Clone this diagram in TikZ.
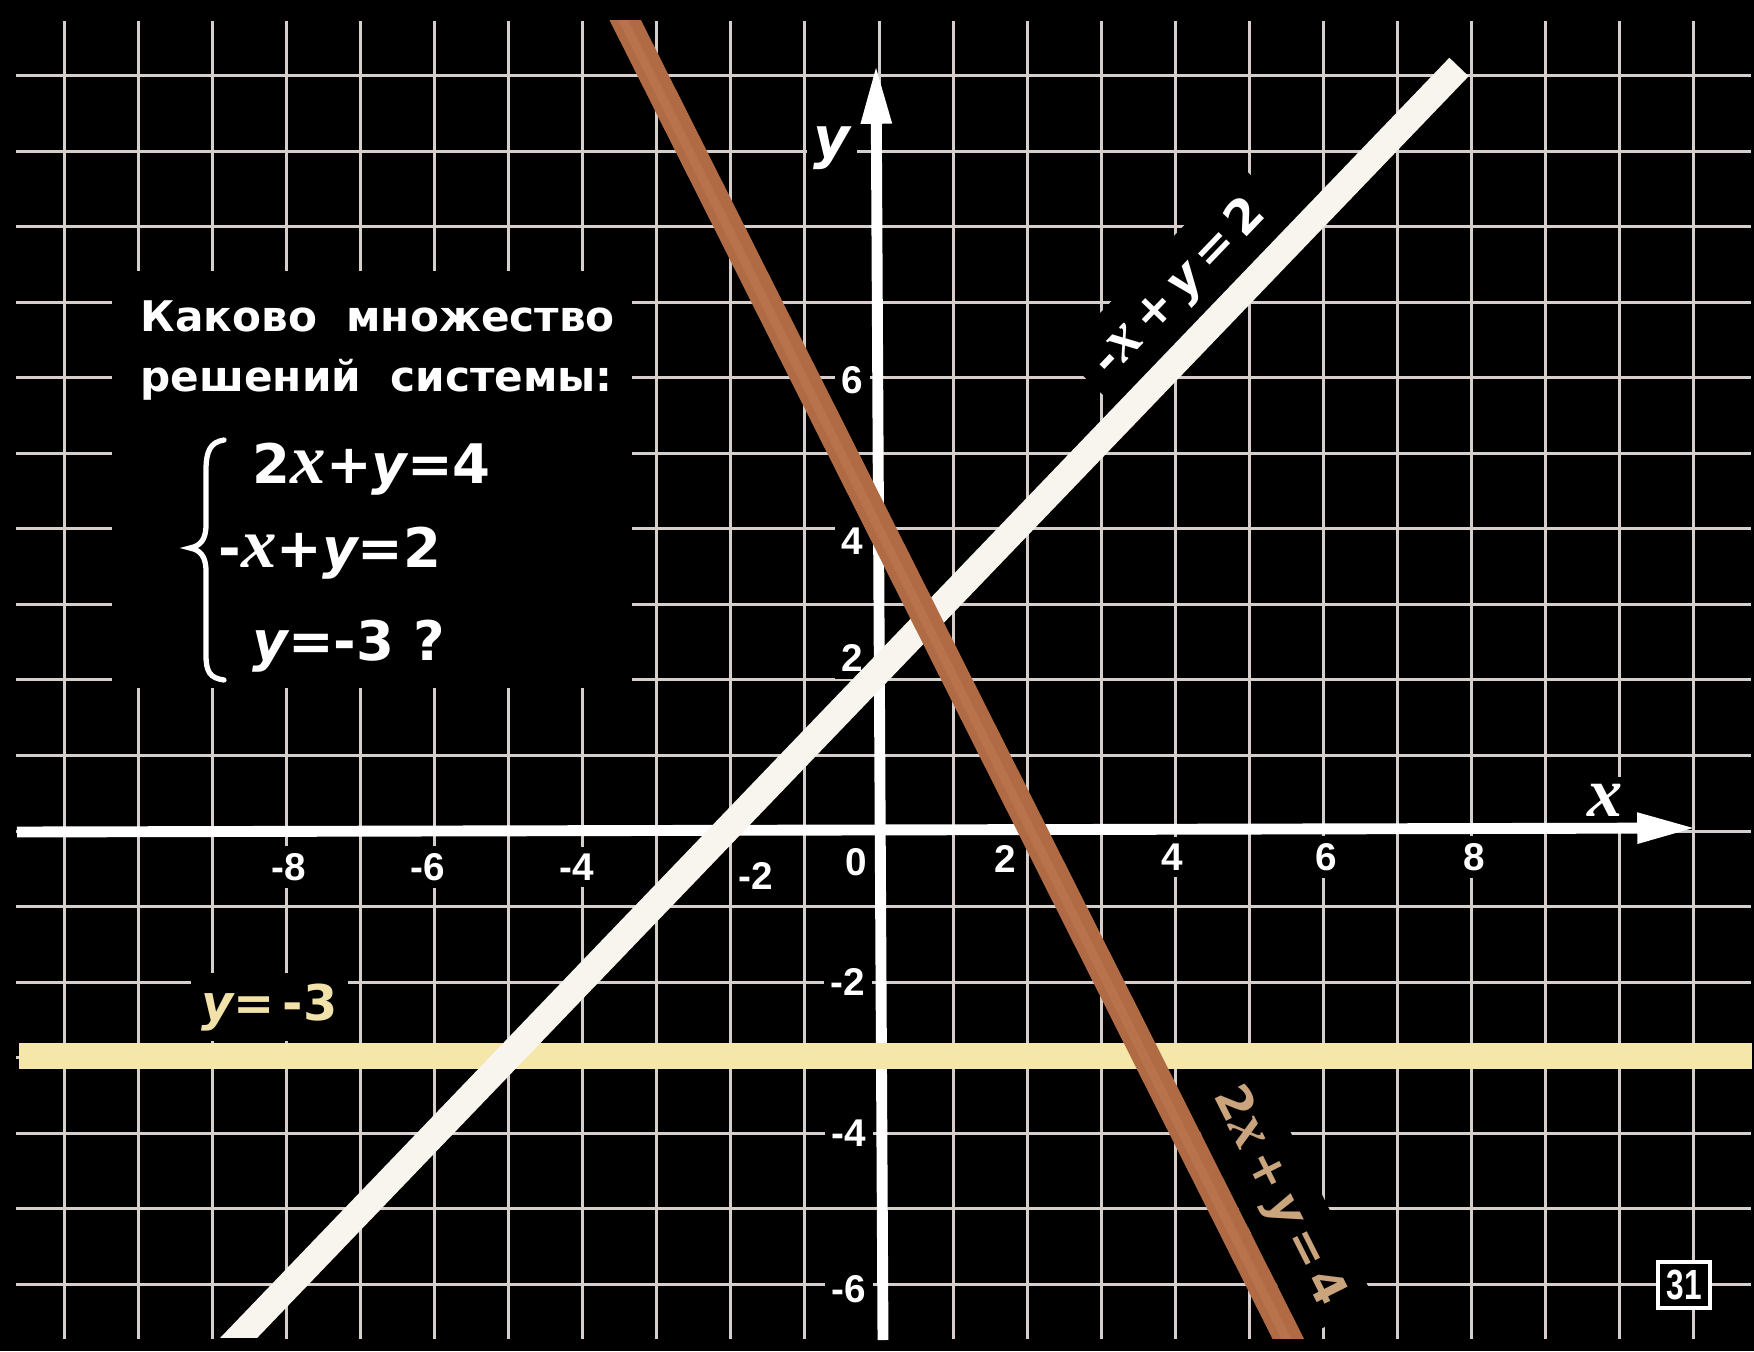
\documentclass[tikz,border=0pt]{standalone}
\usepackage{fontspec}
\setmainfont{DejaVu Sans}
\newfontfamily\serifit{Liberation Serif}
\newfontfamily\digitfont{Liberation Sans}
\usetikzlibrary{arrows.meta}
\definecolor{gridc}{HTML}{D6CECB}
\definecolor{whiteln}{HTML}{F8F5EF}
\definecolor{yellowln}{HTML}{F5E7AA}
\definecolor{brownln}{HTML}{B06A44}
\definecolor{brownhi}{HTML}{BE7A52}
\definecolor{browntxt}{HTML}{C9A47C}
\definecolor{yellowtxt}{HTML}{F0E2A8}
\newcommand{\myx}{\scalebox{1.3}{\serifit\bfseries\itshape x}}
\newcommand{\myy}{{\bfseries\itshape y}}
\tikzset{
  gridline/.style={draw=gridc, line width=0.85pt},
  axisline/.style={draw=white, line width=3.1pt, -{Triangle[length=17pt,width=8pt]}},
  ticklbl/.style={fill=black, text=white, inner sep=2pt, font=\digitfont\bfseries\fontsize{11}{12}\selectfont},
  boxtxt/.style={text=white, inner sep=0pt, font=\bfseries\fontsize{12}{14}\selectfont},
  eqtxt/.style={text=white, inner sep=0pt, font=\bfseries\fontsize{15.5}{18}\selectfont},
  linelbl/.style={fill=black, inner sep=5pt, font=\bfseries\fontsize{13.5}{16}\selectfont},
  axlbl/.style={fill=black, text=white, inner sep=2pt, font=\bfseries\fontsize{16}{18}\selectfont},
  bigline/.style={line width=7.6pt, line cap=butt},
}
\begin{document}
\begin{tikzpicture}[x=0.01cm, y=-0.01cm]
\useasboundingbox (0,0) rectangle (1754,1351);
\fill[black] (0,0) rectangle (1754,1351);
% grid
\begin{scope}[shift={(879,831)}, x=0.74cm, y=0.755cm]
  \foreach \i in {-11,...,11} \draw[gridline] (\i,10.72) -- (\i,-6.72);
  \foreach \j in {-6,...,10} \draw[gridline] (-11.65,\j) -- (11.77,\j);
\end{scope}
% text panel
\fill[black] (112,271) rectangle (632,688);
\node[boxtxt, anchor=base west] (t1) at (140,331) {Каково\ \ множество};
\node[boxtxt, anchor=base west] (t2) at (140,391) {решений\ \ системы:};
\node[eqtxt, anchor=base west] (e1) at (252,483) {2\myx+\myy=4};
\node[eqtxt, anchor=base west] (e2) at (218,567) {-\myx+\myy=2};
\node[eqtxt, anchor=base west] (e3) at (252,660) {\myy=-3 ?};
\draw[white, line width=1.5pt, line cap=round]
  (224,440) .. controls (210,442) and (206,452) .. (206,470) -- (206,525)
  .. controls (206,540) and (200,546) .. (190,548)
  .. controls (200,550) and (206,556) .. (206,571) -- (206,655)
  .. controls (206,672) and (210,678) .. (224,680);
% tick labels x
\node[ticklbl] (xm8) at (289,867) {-8};
\node[ticklbl] (xm6) at (428,867) {-6};
\node[ticklbl] (xm4) at (577,867) {-4};
\node[ticklbl] (xm2) at (756,876) {-2};
\node[ticklbl] (x0) at (856,862) {0};
\node[ticklbl] (x2) at (1005,859) {2};
\node[ticklbl] (x4) at (1172,857) {4};
\node[ticklbl] (x6) at (1326,857) {6};
\node[ticklbl] (x8) at (1474,857) {8};
% tick labels y
\node[ticklbl, anchor=east] (y6) at (871,380) {6};
\node[ticklbl, anchor=east] (y4) at (871,541) {4};
\node[ticklbl, anchor=east] (y2) at (871,658) {2};
\node[ticklbl, anchor=east] (ym2) at (873,982) {-2};
\node[ticklbl, anchor=east] (ym4) at (874,1133) {-4};
\node[ticklbl, anchor=east] (ym6) at (874,1289) {-6};
% axis labels
\node[axlbl] (ylbl) at (832,148) {\myy};
\node[axlbl, font=\serifit\bfseries\itshape\fontsize{20}{20}\selectfont] (xlbl) at (1605,800) {x};
% line labels
\node[linelbl, text=white, rotate=46.2] (l2) at (1180,288) {-\myx\,+\,\myy\,=\,2};
\node[linelbl, text=browntxt, rotate=-63.3] (l1) at (1278,1197) {2\myx\,+\,\myy\,=\,4};
\node[fill=black, inner sep=3pt, text=yellowtxt, font=\bfseries\fontsize{14}{16}\selectfont, anchor=base west] (l3) at (190,1020) {\myy=\,-3};
% page number
\node[draw=white, line width=1.2pt, fill=black, text=white, minimum width=0.52cm, minimum height=0.46cm, inner sep=0pt, font=\digitfont\bfseries\fontsize{12}{12}\selectfont] (pg) at (1684,1285) {\scalebox{0.75}[1]{31}};
% axes
\draw[axisline] (17,832) -- (1697,828);
\draw[axisline] (883,1340) -- (876,64);
% lines
\draw[yellowln, bigline] (19,1056) -- (1752,1056);
\begin{scope}
  \clip (0,0) rectangle (1754,1337);
  \draw[whiteln, bigline] (179,1400) -- (1459,67);
\end{scope}
\begin{scope}
  \clip (0,20) rectangle (1754,1338);
  \draw[brownln, bigline, line width=8pt] (592,-46) -- (1321,1404);
  \draw[brownhi, line width=2.5pt, opacity=0.6] (590,-46) -- (1319,1404);
\end{scope}
\end{tikzpicture}
\end{document}
